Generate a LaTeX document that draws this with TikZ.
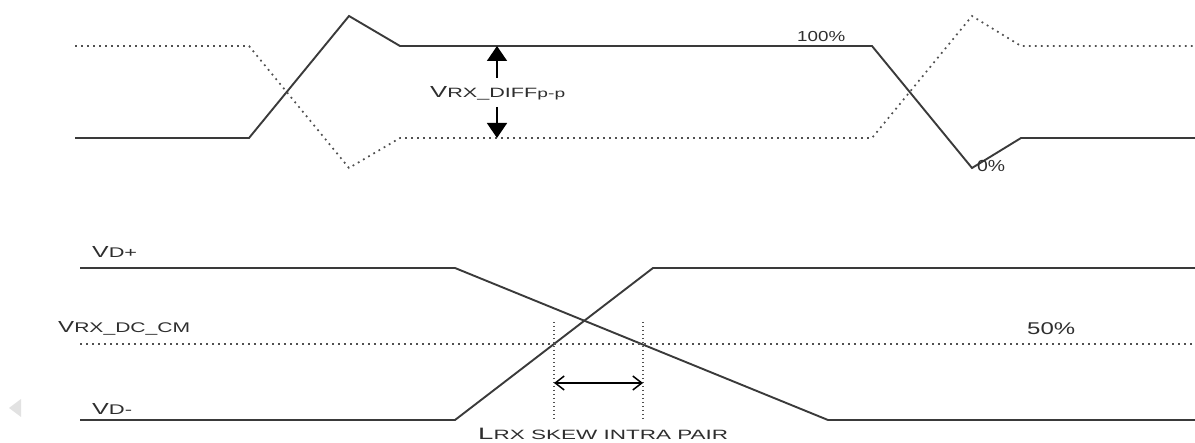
\documentclass[tikz,border=0pt]{standalone}
\usepackage{graphicx}
\usepackage{fontspec}
\setmainfont{Liberation Sans}
\usetikzlibrary{arrows.meta}
\newcommand{\fs}[1]{\fontsize{#1}{#1}\selectfont}
\newcommand{\widen}[2]{\resizebox{#1pt}{\height}{#2}}
\definecolor{ln}{HTML}{3A3A3A}
\definecolor{dt}{HTML}{505050}
\definecolor{tx}{HTML}{2E2E2E}
\definecolor{tri}{HTML}{E2E2E2}
\tikzset{
  sig/.style={draw=ln, line width=1.9pt, line join=miter},
  dotline/.style={draw=dt, line width=1.7pt, dash pattern=on 1.8pt off 4.2pt},
  vdot/.style={draw=dt, line width=1.3pt, dash pattern=on 1.5pt off 2.5pt},
  lbl/.style={inner sep=0pt, text=tx, anchor=base west},
  fatarrow/.style={draw=black, line width=1.6pt, -{Triangle[length=15pt,width=20pt]}},
  skewarrow/.style={draw=black, line width=1.5pt, {Straight Barb[length=9pt,width=14pt]}-{Straight Barb[length=9pt,width=14pt]}}
}
\begin{document}
\begin{tikzpicture}[x=1pt,y=-1pt]
\useasboundingbox (0,0) rectangle (1195,443);
\clip (0,0) rectangle (1195,443);
% top waveforms
\draw[sig] (75,138) -- (249,138) -- (349,16) -- (400,46) -- (872,46) -- (972,168) -- (1021,138) -- (1197,138);
\draw[dotline] (75,46) -- (249,46) -- (349,168) -- (400,138) -- (872,138) -- (972,16) -- (1021,46) -- (1197,46);
% amplitude arrows
\coordinate (uptop) at (497,46);
\coordinate (upbot) at (497,78);
\coordinate (dntop) at (497,107);
\coordinate (dnbot) at (497,138);
\draw[fatarrow] (upbot) -- (uptop);
\draw[fatarrow] (dntop) -- (dnbot);
\node[lbl] (diff) at (430,98) {\widen{135}{\fs{16}V\fs{13.5}RX\_DIFF\fs{12}p-p}};
\node[lbl] (hund) at (797,42) {\widen{48}{\fs{14.5}100\%}};
\node[lbl] (zero) at (977,172) {\widen{28}{\fs{16}0\%}};
% bottom waveforms
\draw[sig] (80,268) -- (455,268) -- (828,420) -- (1197,420);
\draw[sig] (80,420) -- (455,420) -- (653,268) -- (1197,268);
\draw[dotline] (80,344) -- (1197,344);
\coordinate (s1t) at (554,322);
\coordinate (s1b) at (554,420);
\coordinate (s2t) at (643,322);
\coordinate (s2b) at (643,420);
\draw[vdot] (s1t) -- (s1b);
\draw[vdot] (s2t) -- (s2b);
\coordinate (a1) at (554,383);
\coordinate (a2) at (643,383);
\draw[skewarrow] (a1) -- (a2);
\node[lbl] (vdp) at (92,258) {\widen{45}{\fs{16}V\fs{14}D+}};
\node[lbl] (vcm) at (58,333) {\widen{132}{\fs{16}V\fs{14}RX\_DC\_CM}};
\node[lbl] (vdm) at (92,415) {\widen{40}{\fs{16}V\fs{14}D-}};
\node[lbl] (fifty) at (1027,335) {\widen{48}{\fs{17}50\%}};
\node[lbl] (skew) at (478,440) {\widen{250}{\fs{16.5}L\fs{13.5}RX SKEW INTRA PAIR}};
% side marker
\fill[tri] (21,399) -- (21,417) -- (9,408) -- cycle;
\end{tikzpicture}
\end{document}
